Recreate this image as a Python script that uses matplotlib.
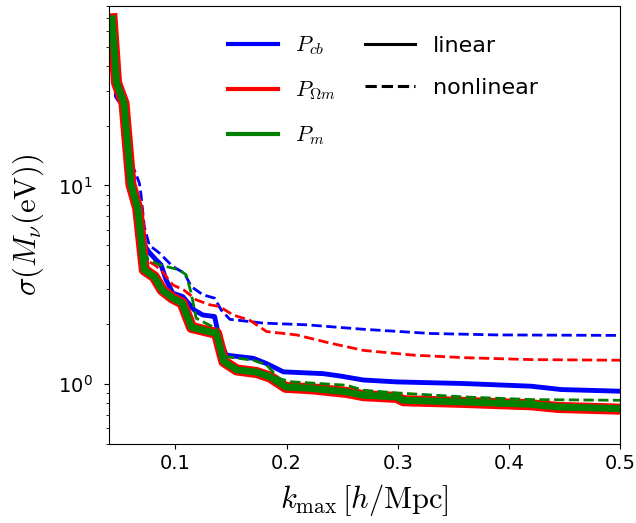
import matplotlib
matplotlib.use('Agg')
import matplotlib.pyplot as plt
from matplotlib.lines import Line2D

plt.rcParams['mathtext.fontset'] = 'cm'

# P_cb, linear
k_cb_lin = [0.043, 0.047, 0.0537, 0.060, 0.066, 0.071, 0.0736, 0.0765, 0.083, 0.087, 0.0916,
            0.0976, 0.1066, 0.117, 0.1246, 0.1352, 0.1397, 0.1458, 0.170, 0.182, 0.197,
            0.233, 0.248, 0.269, 0.299, 0.359, 0.420, 0.447, 0.5]
s_cb_lin = [69, 32.8, 26.0, 10.3, 7.9, 5.2, 4.85, 4.6, 4.2, 3.99, 3.35,
            2.87, 2.76, 2.36, 2.23, 2.19, 1.67, 1.40, 1.35, 1.27, 1.154,
            1.13, 1.10, 1.05, 1.027, 1.008, 0.977, 0.94, 0.922]

# P_cb, nonlinear
k_cb_nl = [0.043, 0.046, 0.0537, 0.060, 0.0640, 0.0675, 0.069, 0.072, 0.0765, 0.0856, 0.0976,
           0.108, 0.1142, 0.1246, 0.1352, 0.1412, 0.149, 0.179, 0.218, 0.269, 0.3295,
           0.3895, 0.5]
s_cb_nl = [69, 28, 24, 13.0, 11.6, 10.3, 9.0, 6.2, 5.0, 4.57, 3.91,
           3.62, 3.10, 2.82, 2.71, 2.36, 2.12, 2.03, 1.99, 1.89, 1.80,
           1.77, 1.76]

# P_Omega_m, linear
k_om_lin = [0.043, 0.047, 0.0537, 0.060, 0.066, 0.072, 0.081, 0.088, 0.097, 0.106, 0.1145,
            0.130, 0.137, 0.1435, 0.155, 0.173, 0.185, 0.199, 0.224, 0.254, 0.269,
            0.299, 0.305, 0.359, 0.420, 0.444, 0.5]
s_om_lin = [69, 32.8, 26.0, 10.1, 7.7, 3.76, 3.47, 2.98, 2.72, 2.56, 1.93,
            1.84, 1.80, 1.30, 1.18, 1.145, 1.087, 0.965, 0.947, 0.909, 0.876,
            0.858, 0.826, 0.810, 0.788, 0.764, 0.749]

# P_Omega_m, nonlinear
k_om_nl = [0.043, 0.047, 0.0537, 0.060, 0.066, 0.071, 0.081, 0.087, 0.0976, 0.1075, 0.1186,
           0.1307, 0.1397, 0.1517, 0.1668, 0.182, 0.2089, 0.2391, 0.269, 0.3144, 0.3595,
           0.4197, 0.5]
s_om_nl = [69, 32, 25.5, 10.5, 7.8, 4.3, 3.99, 3.76, 3.16, 2.98, 2.66,
           2.51, 2.46, 2.23, 2.10, 1.84, 1.77, 1.61, 1.48, 1.40, 1.36,
           1.33, 1.32]

# P_m, linear
k_m_lin = [0.043, 0.047, 0.0537, 0.060, 0.066, 0.072, 0.081, 0.088, 0.097, 0.106, 0.1145,
           0.130, 0.137, 0.1435, 0.155, 0.173, 0.185, 0.199, 0.224, 0.254, 0.269,
           0.299, 0.305, 0.359, 0.420, 0.444, 0.5]
s_m_lin = [69, 32.8, 26.0, 10.1, 7.7, 3.76, 3.47, 2.98, 2.72, 2.56, 1.93,
           1.84, 1.80, 1.30, 1.18, 1.15, 1.09, 0.969, 0.951, 0.914, 0.880,
           0.863, 0.830, 0.814, 0.792, 0.768, 0.753]

# P_m, nonlinear
k_m_nl = [0.043, 0.047, 0.0537, 0.060, 0.066, 0.0715, 0.0755, 0.0856, 0.1036, 0.1096, 0.1142,
          0.1186, 0.1307, 0.1367, 0.1435, 0.170, 0.182, 0.193, 0.203, 0.227, 0.254,
          0.269, 0.299, 0.359, 0.420, 0.5]
s_m_nl = [69, 32.8, 26.0, 10.1, 7.8, 4.6, 4.25, 3.99, 3.76, 3.55, 2.87,
          2.15, 1.98, 1.91, 1.38, 1.32, 1.25, 1.07, 1.03, 1.01, 0.988,
          0.933, 0.904, 0.863, 0.837, 0.830]

fig = plt.figure(figsize=(6.36, 5.23), dpi=100)
ax = fig.add_axes([0.171, 0.151, 0.804, 0.8375])

ax.plot(k_cb_lin, s_cb_lin, color='b', lw=3.5, ls='-')
ax.plot(k_cb_nl, s_cb_nl, color='b', lw=2, ls='--')
ax.plot(k_om_lin, s_om_lin, color='r', lw=8, ls='-')
ax.plot(k_om_nl, s_om_nl, color='r', lw=2, ls='--')
ax.plot(k_m_lin, s_m_lin, color='g', lw=5, ls='-')
ax.plot(k_m_nl, s_m_nl, color='g', lw=2, ls='--')

ax.set_yscale('log')
ax.set_xlim(0.04, 0.5)
ax.set_ylim(0.5, 80)
ax.set_xticks([0.1, 0.2, 0.3, 0.4, 0.5])
ax.set_xticklabels(['0.1', '0.2', '0.3', '0.4', '0.5'])
ax.tick_params(labelsize=14)
ax.tick_params(axis='y', pad=8)
ax.set_xlabel(r'$k_{\rm max}\,[h/{\rm Mpc}]$', fontsize=22, labelpad=7)
ax.set_ylabel(r'$\sigma(M_\nu({\rm eV}))$', fontsize=22, labelpad=9)

# one legend, two columns: spectra and linear / nonlinear
handles = [Line2D([], [], color='b', lw=3),
           Line2D([], [], color='r', lw=3),
           Line2D([], [], color='g', lw=3),
           Line2D([], [], color='k', lw=2.2, ls='-'),
           Line2D([], [], color='k', lw=2.2, ls='--')]
labels = [r'$P_{cb}$', r'$P_{\Omega m}$', r'$P_m$', 'linear', 'nonlinear']
ax.legend(handles, labels, ncol=2, loc='upper left', bbox_to_anchor=(0.215, 0.955),
          borderaxespad=0, frameon=False, fontsize=16, handlelength=2.25,
          labelspacing=1.0, columnspacing=1.3)

fig.savefig('out.png', dpi=100)
